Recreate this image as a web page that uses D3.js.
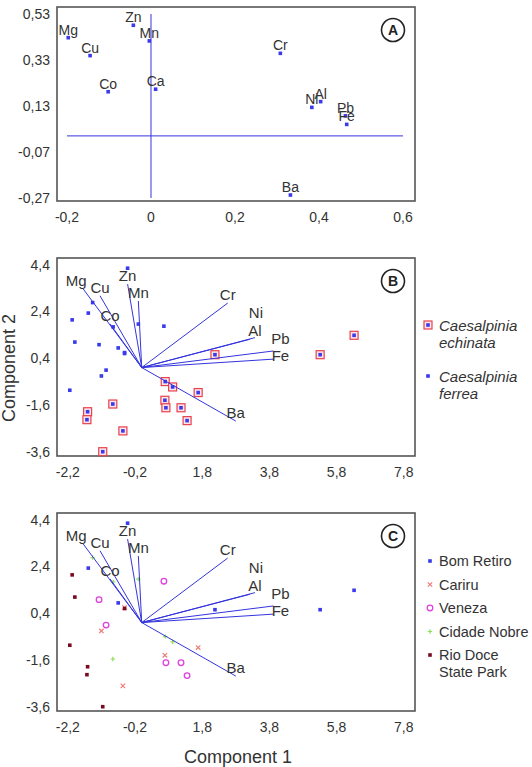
<!DOCTYPE html>
<html>
<head>
<meta charset="utf-8">
<script src="https://cdn.jsdelivr.net/npm/d3@7"></script>
<style>
  body { margin: 0; background: #fff; }
  svg text { font-family: "Liberation Sans", Arial, sans-serif; fill: #333; }
</style>
</head>
<body>
<div id="vis"></div>
<script>
const width = 532;
const height = 767;

// Panel A: element loadings
const loadNames = ["Mg", "Cu", "Zn", "Mn", "Co", "Ca", "Cr", "Ni", "Al", "Pb", "Fe", "Ba"];
const loadPC1 = [-0.197, -0.145, -0.042, -0.004, -0.102, 0.011, 0.308, 0.383, 0.404, 0.463, 0.466, 0.332];
const loadPC2 = [0.427, 0.349, 0.481, 0.413, 0.192, 0.203, 0.359, 0.124, 0.149, 0.087, 0.050, -0.257];

// Panels B and C: biplot vectors
const vecNames = ["Mg", "Cu", "Zn", "Mn", "Co", "Cr", "Ni", "Al", "Pb", "Fe", "Ba"];
const vecPC1 = [-1.74, -1.24, -0.42, -0.10, -0.94, 2.56, 3.22, 3.37, 3.92, 3.92, 2.80];
const vecPC2 = [3.36, 3.07, 3.57, 2.85, 1.86, 2.76, 1.21, 1.28, 0.71, 0.36, -2.29];

// sample scores (F = C. ferrea, E = C. echinata)
const scorePC1 = [-1.46, -1.59, -2.07, -0.85, -1.99, -1.27, -0.70, -0.51, -0.51, -0.10, 0.66, -1.06, -1.20, -2.14, -0.42,
                  2.18, 5.31, 6.32, 0.70, 0.92, 1.68, 0.69, 0.72, 1.17, 1.35, -0.86, -1.61, -1.63, -0.56, -1.16];
const scorePC2 = [2.78, 2.33, 2.04, 1.74, 1.09, 0.98, 0.84, 0.64, 0.60, 1.86, 1.77, -0.11, -0.36, -0.97, 4.25,
                  0.55, 0.55, 1.38, -0.60, -0.83, -1.07, -1.40, -1.72, -1.72, -2.27, -1.56, -1.89, -2.23, -2.71, -3.60];
const scoreSpecies = ["F", "F", "F", "F", "F", "F", "F", "F", "F", "F", "F", "F", "F", "F", "F",
                      "E", "E", "E", "E", "E", "E", "E", "E", "E", "E", "E", "E", "E", "E", "E"];
const scoreSite = ["CN", "BR", "RD", "CN", "RD", "VZ", "BR", "CA", "RD", "CN", "VZ", "VZ", "CA", "RD", "BR",
                   "BR", "BR", "BR", "CN", "CN", "CA", "CA", "VZ", "VZ", "VZ", "CN", "RD", "RD", "CA", "RD"];

const speciesKeys = ["E", "F"];
const speciesLabels = [["Caesalpinia", "echinata"], ["Caesalpinia", "ferrea"]];
const siteKeys = ["BR", "CA", "VZ", "CN", "RD"];
const siteLabels = [["Bom Retiro"], ["Cariru"], ["Veneza"], ["Cidade Nobre"], ["Rio Doce", "State Park"]];

const ticksAx = [-0.2, 0, 0.2, 0.4, 0.6];
const ticksAy = [-0.27, -0.07, 0.13, 0.33, 0.53];
const ticksBx = [-2.2, -0.2, 1.8, 3.8, 5.8, 7.8];
const ticksBy = [-3.6, -1.6, 0.4, 2.4, 4.4];

const blue = "#3a3aec";
const lineBlue = "#3434de";
const siteColor = { BR: "#3a3aec", CA: "#f07a7a", VZ: "#e040e0", CN: "#8ee05a", RD: "#7a0a22" };

const fmt = d => String(d).replace(".", ",");

const svg = d3.select("#vis").append("svg")
  .attr("width", width)
  .attr("height", height);

// label nudges for crowded vector names (pixels)
const nudgeB = { Mg: [-7, 0], Ni: [6, -18], Al: [0, 1], Pb: [7, -4], Fe: [7, 5] };

function makePanel(top, bottom, xDom, yDom, xTicks, yTicks, letter) {
  const left = 57, right = 415;
  const x = d3.scaleLinear().domain(xDom).range([left, right]);
  const y = d3.scaleLinear().domain(yDom).range([bottom, top]);
  const g = svg.append("g");

  g.append("rect")
    .attr("x", left).attr("y", top)
    .attr("width", right - left).attr("height", bottom - top)
    .attr("fill", "none").attr("stroke", "#555").attr("stroke-width", 1.6);

  g.selectAll(".xt").data(xTicks).join("text")
    .attr("x", d => x(d)).attr("y", bottom + 21)
    .attr("text-anchor", "middle").attr("font-size", 14)
    .text(fmt);

  g.selectAll(".yt").data(yTicks).join("text")
    .attr("x", 50).attr("y", d => y(d) + 5)
    .attr("text-anchor", "end").attr("font-size", 14)
    .text(fmt);

  g.append("circle")
    .attr("cx", 393).attr("cy", top + 23).attr("r", 11.5)
    .attr("fill", "none").attr("stroke", "#222").attr("stroke-width", 1.6);
  g.append("text")
    .attr("x", 393).attr("y", top + 28)
    .attr("text-anchor", "middle").attr("font-size", 14).attr("font-weight", "bold")
    .style("fill", "#222")
    .text(letter);

  return { g, x, y };
}

function dot(g, cx, cy, color) {
  g.append("rect")
    .attr("x", cx - 1.8).attr("y", cy - 1.8)
    .attr("width", 3.6).attr("height", 3.6)
    .attr("fill", color);
}

function siteMarker(g, site, cx, cy) {
  const c = siteColor[site];
  if (site === "CA") {
    g.append("path")
      .attr("d", `M${cx - 2.2},${cy - 2.2}L${cx + 2.2},${cy + 2.2}M${cx - 2.2},${cy + 2.2}L${cx + 2.2},${cy - 2.2}`)
      .attr("stroke", c).attr("stroke-width", 1.2);
  } else if (site === "VZ") {
    g.append("circle").attr("cx", cx).attr("cy", cy).attr("r", 2.8)
      .attr("fill", "none").attr("stroke", c).attr("stroke-width", 1.3);
  } else if (site === "CN") {
    g.append("path")
      .attr("d", `M${cx - 2.2},${cy}L${cx + 2.2},${cy}M${cx},${cy - 2.2}L${cx},${cy + 2.2}`)
      .attr("stroke", c).attr("stroke-width", 1.2);
  } else {
    dot(g, cx, cy, c);
  }
}

function speciesMarker(g, sp, cx, cy) {
  if (sp === "E") {
    g.append("rect")
      .attr("x", cx - 4).attr("y", cy - 4).attr("width", 8).attr("height", 8)
      .attr("fill", "#fbe4ea").attr("stroke", "#e8424c").attr("stroke-width", 1.2);
  }
  dot(g, cx, cy, blue);
}

function drawVectors(p) {
  vecNames.forEach((n, i) => {
    p.g.append("line")
      .attr("x1", p.x(0)).attr("y1", p.y(0))
      .attr("x2", p.x(vecPC1[i])).attr("y2", p.y(vecPC2[i]))
      .attr("stroke", lineBlue).attr("stroke-width", 1);
  });
  vecNames.forEach((n, i) => {
    const nd = nudgeB[n] || [0, 0];
    p.g.append("text")
      .attr("x", p.x(vecPC1[i]) + nd[0])
      .attr("y", p.y(vecPC2[i]) - 3 + nd[1])
      .attr("text-anchor", "middle").attr("font-size", 15)
      .text(n);
  });
}

// ---- Panel A ----
const pA = makePanel(7, 201, [-0.2238, 0.6286], [-0.283, 0.5604], ticksAx, ticksAy, "A");
pA.g.append("line")
  .attr("x1", pA.x(0)).attr("x2", pA.x(0))
  .attr("y1", pA.y(-0.27)).attr("y2", pA.y(0.53))
  .attr("stroke", lineBlue).attr("stroke-width", 1);
pA.g.append("line")
  .attr("x1", pA.x(-0.2)).attr("x2", pA.x(0.6))
  .attr("y1", pA.y(0)).attr("y2", pA.y(0))
  .attr("stroke", lineBlue).attr("stroke-width", 1);
loadNames.forEach((n, i) => {
  dot(pA.g, pA.x(loadPC1[i]), pA.y(loadPC2[i]), blue);
  pA.g.append("text")
    .attr("x", pA.x(loadPC1[i]))
    .attr("y", pA.y(loadPC2[i]) - 3)
    .attr("text-anchor", "middle").attr("font-size", 14)
    .text(n);
});

// ---- Panel B ----
const pB = makePanel(258, 456, [-2.521, 8.133], [-3.784, 4.687], ticksBx, ticksBy, "B");
scorePC1.forEach((v, i) => speciesMarker(pB.g, scoreSpecies[i], pB.x(v), pB.y(scorePC2[i])));
drawVectors(pB);

speciesKeys.forEach((k, i) => {
  const cy = 325 + i * 51;
  speciesMarker(svg, k, 428, cy);
  speciesLabels[i].forEach((t, j) => {
    svg.append("text")
      .attr("x", 439).attr("y", cy + 6 + j * 17)
      .attr("font-size", 15).attr("font-style", "italic")
      .text(t);
  });
});

// ---- Panel C ----
const pC = makePanel(513, 711, [-2.521, 8.133], [-3.784, 4.687], ticksBx, ticksBy, "C");
scorePC1.forEach((v, i) => siteMarker(pC.g, scoreSite[i], pC.x(v), pC.y(scorePC2[i])));
drawVectors(pC);

siteKeys.forEach((k, i) => {
  const cy = 561 + i * 23.5;
  siteMarker(svg, k, 430, cy);
  siteLabels[i].forEach((t, j) => {
    svg.append("text")
      .attr("x", 439).attr("y", cy + 5 + j * 17)
      .attr("font-size", 14.5)
      .text(t);
  });
});

// axis titles
svg.append("text")
  .attr("transform", "translate(15,368) rotate(-90)")
  .attr("text-anchor", "middle").attr("font-size", 18)
  .text("Component 2");
svg.append("text")
  .attr("x", 238).attr("y", 763)
  .attr("text-anchor", "middle").attr("font-size", 18)
  .text("Component 1");
</script>
</body>
</html>
